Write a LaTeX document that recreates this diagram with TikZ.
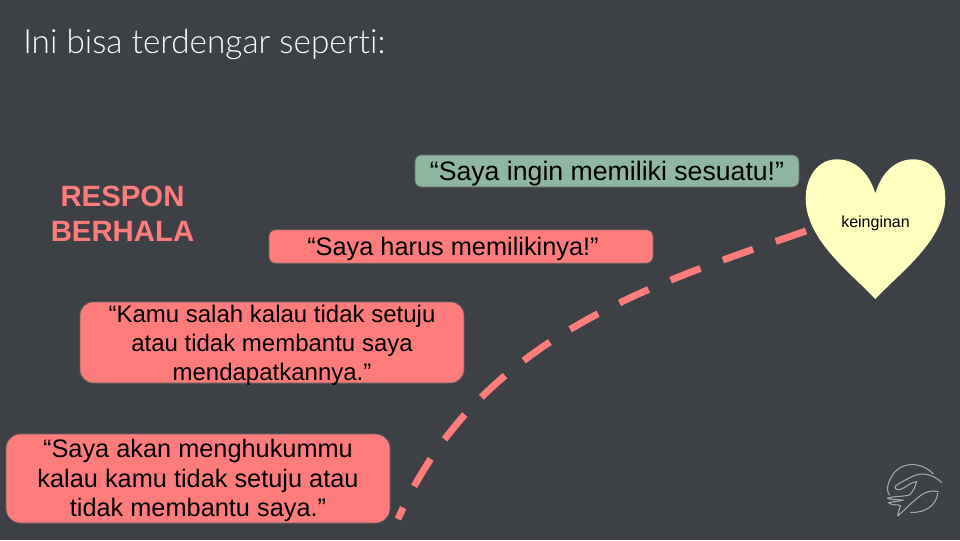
\documentclass[tikz,border=0pt]{standalone}
\usepackage{fontspec}
\setmainfont{Liberation Sans}
\newfontfamily\judulfont[Ligatures=NoCommon]{Lato Light}
\usetikzlibrary{positioning}
\definecolor{latar}{HTML}{3D4045}
\definecolor{merah}{HTML}{FF7C7C}
\definecolor{hijau}{HTML}{8FB6A1}
\definecolor{kuning}{HTML}{FFFFC0}
\definecolor{tepi}{HTML}{666666}
\definecolor{logo}{HTML}{A6A8AA}
\newcommand{\atas}{\rule{0pt}{17pt}}
\tikzset{
  kotak/.style={draw=tepi,line width=0.5pt,align=center,inner xsep=0pt,inner ysep=-5pt,minimum width=288pt,text=black},
  merahbox/.style={kotak,fill=merah},
  hijaubox/.style={kotak,fill=hijau},
  garislogo/.style={draw=logo,line width=0.8pt,line cap=round,line join=round}
}

\begin{document}
\begin{tikzpicture}[x=0.75pt,y=-0.75pt]
    \fill[latar] (0,0) rectangle (960,540);
    \useasboundingbox (0,0) rectangle (960,540);

    \node[text=white,font=\judulfont\fontsize{25}{28}\selectfont,anchor=west,inner sep=0pt] (judul) at (23,44) {Ini bisa terdengar seperti:};
    \node[text=merah,font=\fontsize{22}{26.25}\selectfont\bfseries,align=center] (respon) at (122.5,214) {RESPON\\BERHALA};

    \node[hijaubox,rounded corners=5pt,minimum height=24pt,font=\fontsize{20}{24}\selectfont] (ingin) at (607,171) {\rule{0pt}{18pt}“Saya ingin memiliki sesuatu!”};
    \node[merahbox,rounded corners=5pt,minimum height=25pt,font=\fontsize{19}{23}\selectfont] (harus) at (461,246.5) {\atas“Saya harus memilikinya!”\hspace*{12pt}};
    \node[merahbox,rounded corners=10pt,minimum height=60.75pt,font=\fontsize{18}{21.7}\selectfont] (salah) at (272,342.5) {\atas“Kamu salah kalau tidak setuju\\atau tidak membantu saya\\mendapatkannya.”};
    \node[merahbox,rounded corners=11pt,minimum height=66.75pt,font=\fontsize{19}{22.1}\selectfont] (hukum) at (198,478.5) {\atas“Saya akan menghukummu\\kalau kamu tidak setuju atau\\tidak membantu saya.”};

    % hati
    \fill[kuning] (875.3,193.3) .. controls (868,170) and (853,159.3) .. (836.7,159.3)
      .. controls (818,159.3) and (805.7,177) .. (805.7,198.3)
      .. controls (805.7,240) and (850,272) .. (875.3,299)
      .. controls (900.6,272) and (945.3,240) .. (945.3,198.3)
      .. controls (945.3,177) and (933,159.3) .. (913.3,159.3)
      .. controls (897,159.3) and (882.6,170) .. (875.3,193.3) -- cycle;
    \node[font=\fontsize{12}{14}\selectfont,text=black,inner sep=0pt] (hati) at (875.5,223) {keinginan};

    \coordinate (tepihati) at (806,231);
    \coordinate (ujung) at (398,519);
    \draw[merah,line width=5.2pt,dash pattern=on 24pt off 18pt] (tepihati)
      .. controls (650,285) and (478,338) .. (ujung);

    % logo
    \begin{scope}[xshift=652.5pt,yshift=-337.5pt,x=0.25pt,y=-0.25pt]
      \draw[garislogo] (190,72) .. controls (150,30) and (85,35) .. (62,85) .. controls (50,105) and (50,125) .. (58,135);
      \draw[garislogo] (203,130) .. controls (200,165) and (165,190) .. (122,187);
      \draw[garislogo] (215,97) .. controls (190,75) and (160,65) .. (130,78) .. controls (110,88) and (85,100) .. (75,110) .. controls (75,120) and (85,120) .. (95,117) .. controls (110,110) and (125,95) .. (140,95) .. controls (135,110) and (130,125) .. (118,135) .. controls (100,140) and (70,138) .. (52,145) .. controls (65,150) and (80,148) .. (100,150) .. controls (85,155) and (65,155) .. (55,158) .. controls (70,170) and (85,160) .. (92,168) .. controls (85,180) and (85,190) .. (83,198) .. controls (115,170) and (150,130) .. (175,125) .. controls (185,122) and (195,122) .. (205,125);
    \end{scope}
\end{tikzpicture}
\end{document}
